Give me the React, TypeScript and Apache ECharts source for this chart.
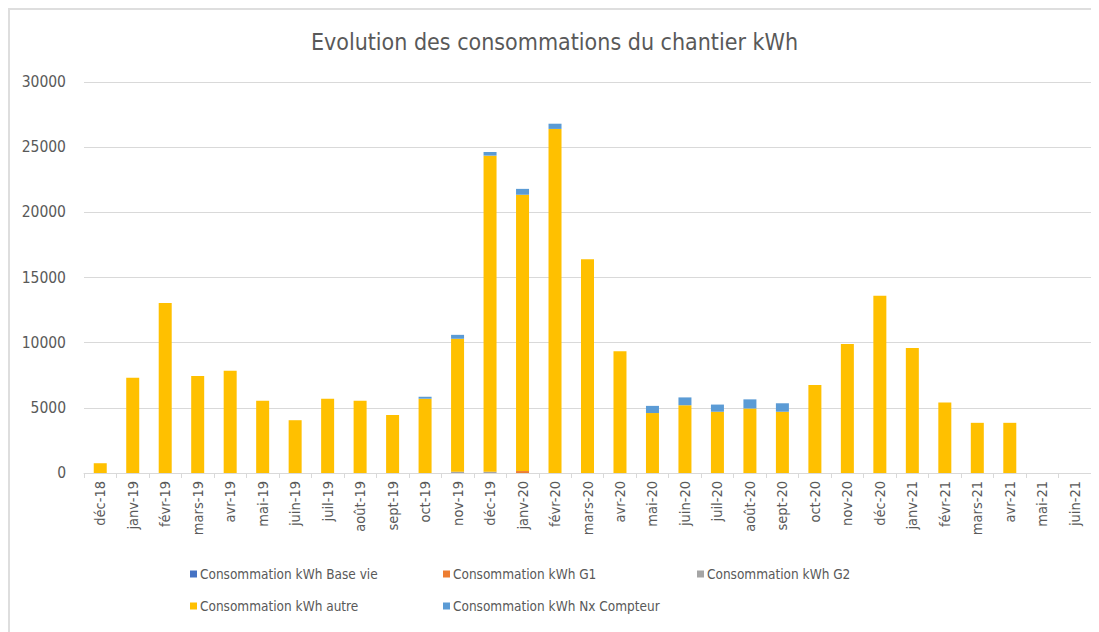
import React, { useEffect, useRef } from "react";
import * as echarts from "echarts";

const categories = [
  "déc-18", "janv-19", "févr-19", "mars-19", "avr-19", "mai-19", "juin-19", "juil-19",
  "août-19", "sept-19", "oct-19", "nov-19", "déc-19", "janv-20", "févr-20", "mars-20",
  "avr-20", "mai-20", "juin-20", "juil-20", "août-20", "sept-20", "oct-20", "nov-20",
  "déc-20", "janv-21", "févr-21", "mars-21", "avr-21", "mai-21", "juin-21",
];

const baseVie = [
  0, 0, 0, 0, 0, 0, 0, 0, 0, 0, 0, 0, 0, 0, 0, 0, 0, 0, 0, 0, 0, 0, 0, 0, 0, 0, 0, 0, 0, 0, 0,
];
const g1 = [
  0, 0, 0, 0, 0, 0, 0, 0, 0, 0, 0, 0, 0, 150, 0, 0, 0, 0, 0, 0, 0, 0, 0, 0, 0, 0, 0, 0, 0, 0, 0,
];
const g2 = [
  0, 0, 0, 0, 0, 0, 0, 0, 0, 0, 0, 100, 100, 0, 0, 0, 0, 0, 0, 0, 0, 0, 0, 0, 0, 0, 0, 0, 0, 0, 0,
];
const autre = [
  750, 7300, 13050, 7450, 7850, 5550, 4050, 5700, 5550, 4450, 5700, 10200, 24250, 21200, 26400,
  16400, 9350, 4600, 5200, 4700, 4950, 4700, 6750, 9900, 13600, 9600, 5400, 3850, 3850, 0, 0,
];
const nxCompteur = [
  0, 0, 0, 0, 0, 0, 0, 0, 0, 0, 150, 300, 280, 450, 400, 0, 0, 550, 600, 550, 700, 650, 0, 0,
  0, 0, 0, 0, 0, 0, 0,
];

const seriesNames = [
  "Consommation kWh Base vie",
  "Consommation kWh G1",
  "Consommation kWh G2",
  "Consommation kWh autre",
  "Consommation kWh Nx Compteur",
];
const seriesColors = ["#4472C4", "#ED7D31", "#A5A5A5", "#FFC000", "#5B9BD5"];
const seriesData = [baseVie, g1, g2, autre, nxCompteur];

const FONT = "'Liberation Sans Narrow', 'Arial Narrow', 'DejaVu Sans Condensed', sans-serif";
const TEXT = "#595959";

export default function App() {
  const ref = useRef<HTMLDivElement>(null);

  useEffect(() => {
    if (!ref.current) return;
    const chart = echarts.init(ref.current, undefined, { renderer: "svg" });
    const legendPos = [
      { left: 180, top: 557 },
      { left: 433, top: 557 },
      { left: 687, top: 557 },
      { left: 180, top: 589 },
      { left: 433, top: 589 },
    ];
    chart.setOption({
      animation: false,
      textStyle: { fontFamily: FONT },
      title: {
        text: "Evolution des consommations du chantier kWh",
        left: "center",
        top: 15,
        textStyle: { fontFamily: FONT, fontSize: 23, fontWeight: "normal", color: TEXT },
      },
      legend: seriesNames.map((n, i) => ({
        data: [n],
        left: legendPos[i].left,
        top: legendPos[i].top,
        padding: 0,
        itemWidth: 7,
        itemHeight: 7,
        itemGap: 3,
        icon: "rect",
        selectedMode: false,
        textStyle: { fontFamily: FONT, fontSize: 13.5, color: TEXT, padding: [0, 0, 0, -2] },
      })),
      grid: { left: 74, right: 8, top: 72, bottom: 159, containLabel: false },
      xAxis: {
        type: "category",
        data: categories,
        axisLine: { lineStyle: { color: "#d9d9d9", width: 1 } },
        axisTick: { show: true, length: 5, lineStyle: { color: "#d9d9d9" } },
        axisLabel: {
          rotate: 90,
          interval: 0,
          margin: 8,
          color: TEXT,
          fontFamily: FONT,
          fontSize: 14.5,
        },
      },
      yAxis: {
        type: "value",
        min: 0,
        max: 30000,
        interval: 5000,
        axisLine: { show: false },
        axisTick: { show: false },
        splitLine: { lineStyle: { color: "#d9d9d9", width: 1 } },
        axisLabel: {
          color: TEXT,
          fontFamily: FONT,
          fontSize: 15.5,
          margin: 18,
          formatter: (v: number) => String(v),
        },
      },
      series: seriesNames.map((n, i) => ({
        name: n,
        type: "bar",
        stack: "total",
        barWidth: 13,
        data: seriesData[i],
        itemStyle: { color: seriesColors[i] },
      })),
    });
    return () => chart.dispose();
  }, []);

  return (
    <div
      style={{
        width: 1091,
        height: 624,
        boxSizing: "border-box",
        borderTop: "2px solid #dedede",
        borderLeft: "2px solid #dedede",
        background: "#fff",
      }}
    >
      <div ref={ref} style={{ width: 1089, height: 622 }} />
    </div>
  );
}
